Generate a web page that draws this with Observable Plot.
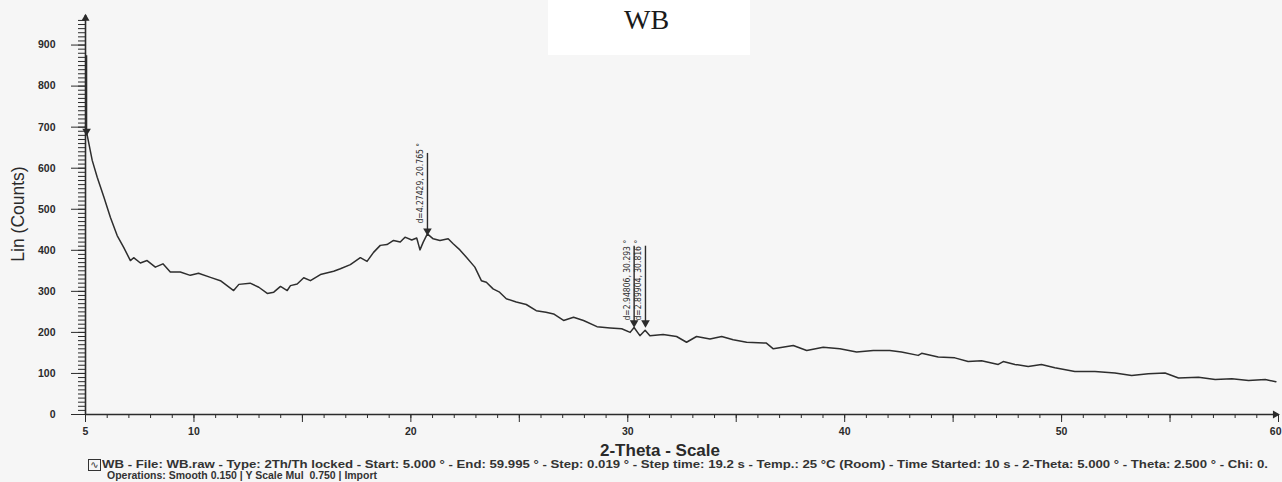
<!DOCTYPE html>
<html>
<head>
<meta charset="utf-8">
<script src="https://cdn.jsdelivr.net/npm/d3@7"></script>
<script src="https://cdn.jsdelivr.net/npm/@observablehq/plot@0.6"></script>
<style>
  html, body { margin: 0; padding: 0; background: #f6f6f6; }
  #wrap { position: relative; width: 1282px; height: 482px; overflow: hidden; font-family: "Liberation Sans", Arial, sans-serif; color: #2a2a2a; }
  #chart { position: absolute; left: 0; top: 0; }
  #titlebox { position: absolute; left: 548px; top: 0; width: 202px; height: 55px; background: #ffffff; }
  #title { position: absolute; left: 624px; top: 4px; font-family: "Liberation Serif", "Times New Roman", serif; font-size: 28px; color: #1a1a1a; }
  #ylab { position: absolute; left: 18px; top: 214px; transform: translate(-50%, -50%) rotate(-90deg); font-size: 17.5px; white-space: nowrap; color: #2a2a2a; }
  #xlab { position: absolute; left: 600px; top: 441px; font-size: 17px; font-weight: bold; white-space: nowrap; color: #2a2a2a; }
  .cap { position: absolute; font-size: 10.5px; line-height: 11px; font-weight: bold; white-space: nowrap; color: #333; transform-origin: 0 50%; }
  #cap1 { left: 102px; top: 459px; }
  #cap2 { left: 107px; top: 470px; }
  #icon { position: absolute; left: 88px; top: 459px; width: 11px; height: 10px; border: 1px solid #333; font-size: 10px; line-height: 9px; text-align: center; font-family: "DejaVu Sans", sans-serif; color: #333; }
</style>
</head>
<body>
<div id="wrap">
  <div id="titlebox"></div>
  <div id="chart"></div>
  <div id="title">WB</div>
  <div id="ylab">Lin (Counts)</div>
  <div id="xlab">2-Theta - Scale</div>
  <div id="icon">∿</div>
  <div id="cap1" class="cap">WB - File: WB.raw - Type: 2Th/Th locked - Start: 5.000 ° - End: 59.995 ° - Step: 0.019 ° - Step time: 19.2 s - Temp.: 25 °C (Room) - Time Started: 10 s - 2-Theta: 5.000 ° - Theta: 2.500 ° - Chi: 0.</div>
  <div id="cap2" class="cap">Operations: Smooth 0.150 | Y Scale Mul&nbsp; 0.750 | Import</div>
</div>
<script>
// 2-Theta positions (degrees) and counts
const theta = [5.00, 5.05, 5.31, 5.54, 5.85, 6.15, 6.46, 6.76, 7.07, 7.22, 7.53, 7.84, 8.22, 8.57, 8.91, 9.37, 9.83, 10.21, 10.76, 11.22, 11.83, 12.07, 12.59, 12.99, 13.38, 13.68, 13.99, 14.30, 14.45, 14.76, 15.06, 15.37, 15.83, 16.44, 16.75, 17.21, 17.67, 17.98, 18.28, 18.59, 18.90, 19.20, 19.51, 19.73, 20.04, 20.27, 20.42, 20.57, 20.76, 21.03, 21.34, 21.72, 21.95, 22.26, 22.56, 22.95, 23.25, 23.48, 23.79, 24.09, 24.40, 24.86, 25.32, 25.78, 26.23, 26.58, 27.04, 27.50, 27.96, 28.58, 29.19, 29.72, 30.11, 30.29, 30.56, 30.80, 31.02, 31.63, 32.25, 32.71, 33.17, 33.79, 34.33, 34.86, 35.48, 36.39, 36.71, 37.63, 38.25, 39.01, 39.78, 40.55, 41.32, 42.08, 42.62, 43.39, 43.55, 44.31, 45.08, 45.69, 46.31, 47.08, 47.31, 47.85, 48.46, 49.07, 49.69, 50.61, 51.54, 52.46, 53.23, 54.00, 54.77, 55.39, 56.31, 57.08, 57.85, 58.62, 59.39, 59.88];
const counts = [702, 688, 619, 578, 529, 480, 436, 407, 375, 382, 369, 375, 359, 367, 347, 347, 339, 344, 334, 326, 302, 317, 320, 310, 295, 298, 312, 302, 314, 318, 333, 326, 341, 349, 355, 365, 382, 373, 395, 412, 414, 424, 420, 432, 425, 430, 401, 420, 440, 428, 424, 428, 416, 401, 383, 359, 326, 322, 306, 298, 282, 274, 268, 253, 249, 245, 229, 237, 229, 214, 211, 209, 200, 212, 192, 205, 192, 195, 190, 176, 190, 184, 190, 182, 176, 174, 160, 168, 156, 164, 160, 152, 156, 156, 152, 144, 149, 140, 138, 129, 131, 122, 129, 122, 117, 122, 114, 105, 105, 101, 95, 99, 101, 89, 91, 85, 87, 83, 85, 80];

// peak markers
const peakTheta = [5.05, 20.765, 30.293, 30.816];
const peakTop = [874, 636, 410, 410];
const peakTip = [683, 440, 216, 216];
const peakLabelBase = [0, 465, 229, 229];
const peakLabel = ["", "d=4.27429, 20.765 °", "d=2.94806, 30.293 °", "d=2.89904, 30.816 °"];

// axis ticks
const yMajor = d3.range(0, 901, 100);
const yMinor = d3.range(0, 961, 10);
const xLabels = [5, 10, 20, 30, 40, 50];
const xEndLabel = [60];
const xMinor = d3.range(5, 61, 1);
const xMajor = d3.range(5, 61, 5);

const scan = theta.map((t, i) => ({t, c: counts[i]}));
const peaks = peakTheta.map((t, i) => ({t, top: peakTop[i], tip: peakTip[i], base: peakLabelBase[i], label: peakLabel[i]}));

const ink = "#2b2b2b";
const chart = Plot.plot({
  width: 1282,
  height: 440,
  marginLeft: 85,
  marginRight: 4,
  marginTop: 15,
  marginBottom: 26,
  x: {domain: [5, 60]},
  y: {domain: [0, 972]},
  style: {background: "transparent", color: ink, fontFamily: "Liberation Sans, Arial, sans-serif", fontSize: "10px", overflow: "visible"},
  marks: [
    Plot.axisY({ticks: yMinor, tickSize: 7, tickFormat: () => "", label: null, stroke: ink}),
    Plot.axisY({ticks: yMajor, tickSize: 14, tickPadding: 16, label: null, fontWeight: "bold", fontSize: 10.5, stroke: ink}),
    Plot.axisX({ticks: xMinor, tickSize: 4, tickFormat: () => "", label: null, stroke: ink}),
    Plot.axisX({ticks: xMajor, tickSize: 8, tickFormat: () => "", label: null, stroke: ink}),
    Plot.axisX({ticks: xLabels, tickSize: 0, tickPadding: 13, label: null, fontWeight: "bold", fontSize: 10.5}),
    Plot.axisX({ticks: xEndLabel, tickSize: 0, tickPadding: 13, label: null, fontWeight: "bold", fontSize: 10.5, textAnchor: "end", dx: 3}),
    Plot.ruleX([5], {y1: 0, y2: 972, stroke: ink, strokeWidth: 1.6}),
    Plot.ruleY([0], {x1: 5, x2: 60, stroke: ink, strokeWidth: 1.6}),
    Plot.dot([{x: 5, y: 965}], {x: "x", y: "y", symbol: "triangle", r: 3, fill: ink, stroke: null}),
    Plot.dot([{x: 59.85, y: 0}], {x: "x", y: "y", symbol: "triangle", r: 3, fill: ink, stroke: null, rotate: 90}),
    Plot.line(scan, {x: "t", y: "c", stroke: "#2e2e2e", strokeWidth: 1.5, curve: "linear"}),
    Plot.ruleX(peaks, {x: "t", y1: "tip", y2: "top", stroke: ink, strokeWidth: 1.4}),
    Plot.dot(peaks, {x: "t", y: "tip", symbol: "triangle", r: 3.2, fill: ink, stroke: null, rotate: 180, dy: -3}),
    Plot.text(peaks.filter(d => d.label), {x: "t", y: "base", text: "label", rotate: -90, textAnchor: "start", lineAnchor: "middle", dx: -7, fontSize: 8.5, fontFamily: "Liberation Sans Narrow, DejaVu Sans Condensed, Arial, sans-serif", fill: ink})
  ]
});
document.getElementById("chart").appendChild(chart);

// fit caption lines to the widths they occupy in the scan
function fit(id, w) {
  const el = document.getElementById(id);
  const cur = el.getBoundingClientRect().width;
  if (cur > 0) el.style.transform = `scaleX(${w / cur})`;
}
fit("cap1", 1166);
fit("cap2", 270);
</script>
</body>
</html>
